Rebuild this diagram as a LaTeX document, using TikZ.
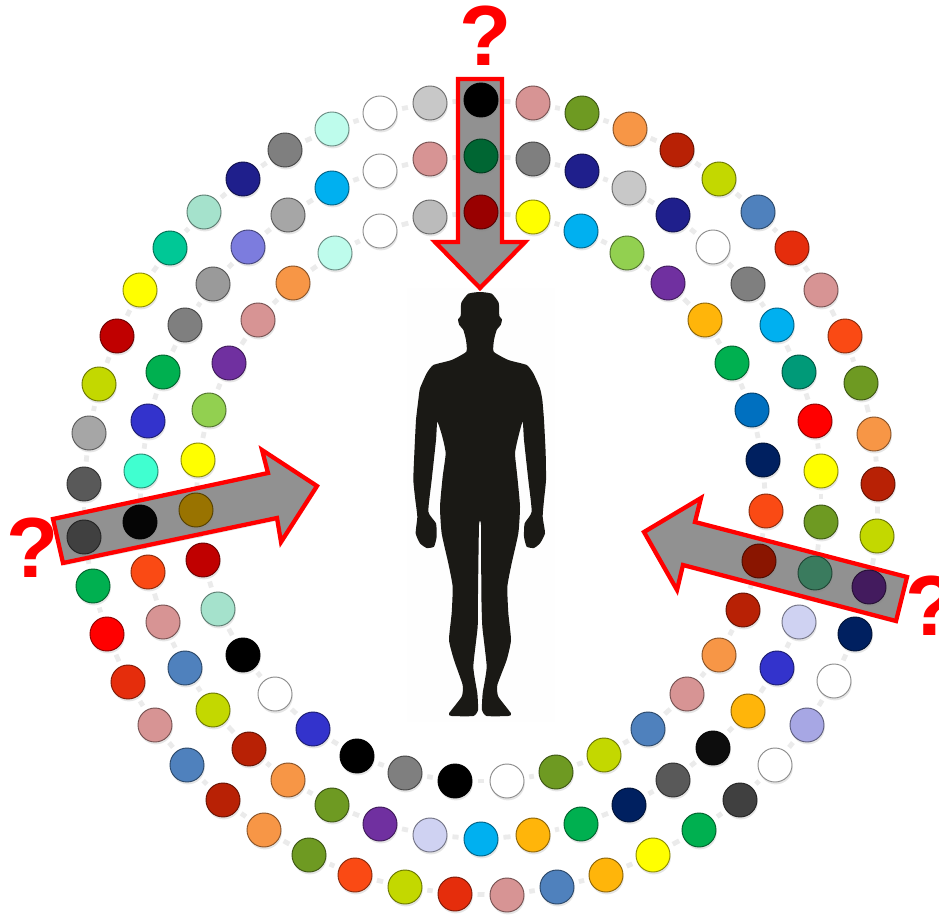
\documentclass[tikz,border=0pt]{standalone}
\usepackage{fontspec}
\setmainfont{Liberation Sans}
\usetikzlibrary{shadows}
\pgfdeclarelayer{bg}
\pgfdeclarelayer{links}
\pgfdeclarelayer{arrows}
\pgfsetlayers{bg,links,arrows,main}
\tikzset{
  ball/.style={circle,minimum size=25.5pt,inner sep=0pt,line width=.7pt,
    drop shadow={shadow xshift=.6pt,shadow yshift=-1.8pt,opacity=.2}},
  link/.style={draw=black!8,line width=3.6pt,shorten >=3.8pt,shorten <=3.8pt},
  bigarrow/.style={draw=red,fill=black!43,line width=3.2pt,line join=miter,
    drop shadow={shadow xshift=.8pt,shadow yshift=-2pt,opacity=.2}},
  qmark/.style={text=red,font=\bfseries\fontsize{64}{64}\selectfont,inner sep=0pt}
}
\newcommand{\ringdraw}[3]{%
  \foreach \px/\py/\hx [count=\i] in {#3} {
    \definecolor{ballc}{HTML}{\hx}
    \node[ball,fill=ballc,draw=ballc!55!black] (#1\i) at (\px,\py) {};
  }
  \begin{pgfonlayer}{links}
    \foreach \i [remember=\i as \j (initially #2)] in {1,...,#2}
      \draw[link] (#1\j) -- (#1\i);
  \end{pgfonlayer}
}
\begin{document}
\begin{tikzpicture}[x=.75pt,y=-.75pt]
\useasboundingbox (0,0) rectangle (939,917);
\begin{pgfonlayer}{bg}
\fill[white] (0,0) rectangle (939,917);
\fill[black!.5] (407,288) rectangle (555,722);
\end{pgfonlayer}
% body
\begin{scope}[shift={(380,280)},x=.25pt,y=-.25pt]
\fill[color={rgb,255:red,26;green,25;blue,21}] plot[smooth cycle,tension=.3] coordinates {
(300,36) (335,41) (356,68) (358,108) (366,118) (362,135) (350,150) (342,180) (341,215)
(385,240) (440,255) (460,280) (480,325) (487,360) (492,420) (497,520) (498,600) (492,660) (488,710)
(495,760) (480,790) (462,804) (440,800) (432,770) (434,730) (455,695) (445,600) (432,480) (428,425)
(415,470) (405,520) (412,590) (420,680) (415,760) (395,850) (382,920) (385,1000) (393,1080) (380,1140)
(352,1215) (355,1250) (393,1300) (385,1308) (320,1308) (306,1290) (308,1240) (320,1160) (307,1040) (304,940) (303,735)
(297,735) (294,940) (293,1040) (280,1160) (292,1240) (294,1290) (280,1308) (215,1308) (207,1300)
(245,1250) (248,1215) (222,1140) (207,1080) (215,1000) (218,920) (205,850) (185,760) (180,680) (188,590)
(197,520) (187,470) (172,425) (168,480) (155,600) (145,695) (168,730) (170,770) (162,800) (140,804)
(120,790) (107,760) (112,710) (106,660) (100,600) (103,520) (108,420) (115,360) (120,325) (140,280)
(160,255) (215,240) (259,215) (258,180) (250,150) (238,135) (234,118) (242,108) (244,68) (265,41)};
\end{scope}
% arrows
\begin{pgfonlayer}{arrows}
\draw[bigarrow] (458,79) -- (502,79) -- (502,242) -- (525,242) -- (480,288) -- (435,242) -- (458,242) -- cycle;
\draw[bigarrow] (53,519) -- (268,473) -- (262,450) -- (317,486) -- (281,542) -- (277,518) -- (63,563) -- cycle;
\draw[bigarrow] (907,577) -- (695,522) -- (701,498) -- (644,532) -- (677,590) -- (683,565) -- (896,621) -- cycle;
\end{pgfonlayer}
% outer ring
\ringdraw{o}{49}{
481/100/000000,533/103/D79494,582/113/6E9A22,630/129/F79646,677/150/B82105,719/179/C3D800,758/212/4F81BD,
792/248/E52D0C,821/290/D79494,845/336/FA4A14,861/383/6E9A22,874/434/F79646,878/484/B82105,877/536/C3D800,
869/587/431B5E,855/634/002060,834/681/FFFFFF,807/725/A7A7E4,775/765/FFFFFF,740/800/404040,699/830/00B050,
653/855/FFFF00,606/875/FFB50A,557/887/4F81BD,507/895/D79494,455/894/E52D0C,405/887/C3D800,355/875/FA4A14,
309/855/6E9A22,264/830/F79646,223/800/B82105,187/765/4F81BD,155/725/D79494,128/682/E52D0C,107/634/FF0000,
93/586/00B050,84/537/404040,84/484/595959,89/433/A6A6A6,99/384/C3D800,117/336/C00000,140/290/FFFF00,
170/248/00C896,204/212/A5E2CC,243/179/1F1F8C,285/150/7F7F7F,332/129/BEFCEC,380/113/FFFFFF,430/103/C8C8C8}
% middle ring
\ringdraw{m}{42}{
481/156/006633,533/159/7F7F7F,582/171/1F1F8C,629/188/C8C8C8,673/215/1F1F8C,713/247/FFFFFF,748/284/7F7F7F,
777/325/00B0F0,799/372/009A78,815/421/FF0000,821/471/FFFF00,821/522/6E9A22,815/573/3A7B5E,799/622/CFD2F2,
777/668/3333CC,748/711/FFB50A,713/748/0D0D0D,673/780/595959,629/805/002060,581/824/00B050,533/835/FFB50A,
481/839/00B0F0,430/835/CFD2F2,380/824/7030A0,332/805/6E9A22,288/780/F79646,249/749/B82105,213/710/C3D800,
185/668/4F81BD,163/622/D79494,148/572/FA4A14,140/522/050505,141/471/40FFD0,148/421/3333CC,163/372/00B050,
185/325/7F7F7F,213/284/9A9A9A,248/247/7C7CDE,288/215/A6A6A6,332/188/00B0F0,380/171/FFFFFF,430/159/D79494}
% inner ring
\ringdraw{n}{35}{
481/212/990000,533/217/FFFF00,581/231/00B0F0,627/253/92D050,668/283/7030A0,705/320/FFB50A,732/363/00B050,
752/410/0070C0,763/460/002060,766/511/FA4A14,759/561/8A1500,743/610/B82105,719/655/F79646,687/694/D79494,
648/729/4F81BD,604/755/C3D800,556/772/6E9A22,507/781/FFFFFF,455/781/000000,405/773/7F7F7F,357/756/000000,
313/729/3333CC,275/694/FFFFFF,243/655/000000,218/609/A5E2CC,203/560/C00000,196/510/997300,198/460/FFFF00,
209/410/92D050,229/363/7030A0,258/320/D79494,293/283/F79646,335/253/BEFCEC,380/231/FFFFFF,430/217/BBBBBB}
% question marks
\node[qmark] (qtop) at (486,36) {?};
\node[qmark] (qleft) at (33,548) {?};
\node[qmark] (qright) at (932,606) {?};
\end{tikzpicture}
\end{document}
